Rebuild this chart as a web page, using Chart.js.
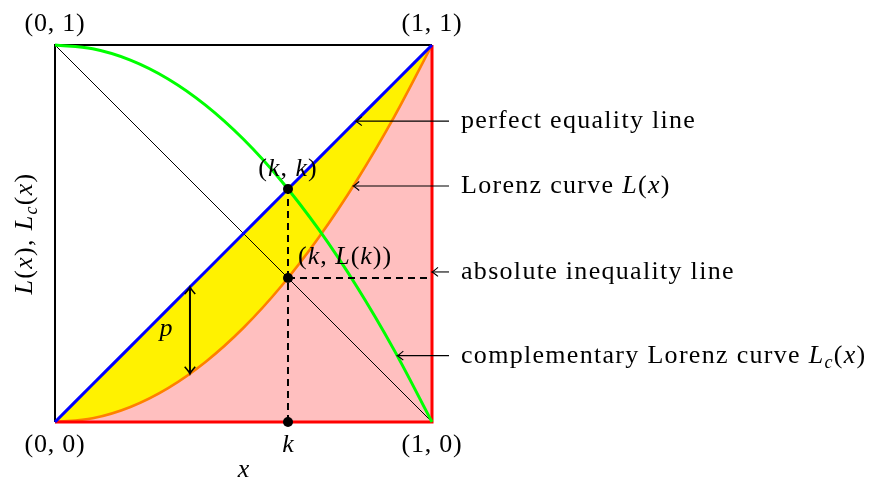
<!DOCTYPE html>
<html>
<head>
    <title>Lorenz curve</title>
    <style>
        html, body { margin: 0; padding: 0; background: #fff; }
        #chart { display: block; }
    </style>
</head>
<body>
    <canvas id="chart" width="871" height="479"></canvas>

    <script src="https://cdn.jsdelivr.net/npm/chart.js"></script>
    <script>
        // values
        const xs       = [0, 0.1, 0.2, 0.3, 0.4, 0.5, 0.6, 0.7, 0.8, 0.9, 1];
        const equality = [0, 0.1, 0.2, 0.3, 0.4, 0.5, 0.6, 0.7, 0.8, 0.9, 1];
        const lorenz   = [0, 0.01, 0.04, 0.09, 0.16, 0.25, 0.36, 0.49, 0.64, 0.81, 1];
        const lorenzC  = [1, 0.99, 0.96, 0.91, 0.84, 0.75, 0.64, 0.51, 0.36, 0.19, 0];
        const kX = 0.618, kY = 0.618, kL = 0.382;
        const pX = 0.358, pTop = 0.358, pBottom = 0.128;

        const pts = (a, b) => a.map((v, i) => ({x: v, y: b[i]}));

        const FONT = '"Liberation Serif", "DejaVu Serif", serif';
        const SIZE = 26;

        function drawRuns(ctx, parts, x, y, align, spacing) {
            const font = s => s === 'r' ? SIZE + 'px ' + FONT
                : s === 'i' ? 'italic ' + SIZE + 'px ' + FONT
                : 'italic ' + Math.round(SIZE * 0.7) + 'px ' + FONT;
            ctx.letterSpacing = (spacing || 0) + 'px';
            let w = 0;
            parts.forEach(([t, s]) => { ctx.font = font(s); w += ctx.measureText(t).width; });
            let cx = align === 'center' ? x - w / 2 : x;
            ctx.textAlign = 'left';
            ctx.textBaseline = 'alphabetic';
            ctx.fillStyle = '#000';
            parts.forEach(([t, s]) => {
                ctx.font = font(s);
                ctx.fillText(t, cx, s === 'sub' ? y + 5 : y);
                cx += ctx.measureText(t).width;
            });
            ctx.letterSpacing = '0px';
        }

        function arrowHead(ctx, x, y, ang, len) {
            ctx.save();
            ctx.translate(x, y);
            ctx.rotate(ang);
            ctx.beginPath();
            ctx.moveTo(-len, -len * 0.75);
            ctx.quadraticCurveTo(-len * 0.25, -len * 0.1, 0, 0);
            ctx.quadraticCurveTo(-len * 0.25, len * 0.1, -len, len * 0.75);
            ctx.stroke();
            ctx.restore();
        }

        const labels = [
            {parts: [['perfect equality line', 'r']], tip: [0.798, 0.798]},
            {parts: [['Lorenz curve ', 'r'], ['L', 'i'], ['(', 'r'], ['x', 'i'], [')', 'r']], tip: [0.791, 0.626]},
            {parts: [['absolute inequality line', 'r']], tip: [1, 0.398]},
            {parts: [['complementary Lorenz curve ', 'r'], ['L', 'i'], ['c', 'sub'], ['(', 'r'], ['x', 'i'], [')', 'r']], tip: [0.908, 0.176]}
        ];

        const overlay = {
            id: 'overlay',
            afterDatasetsDraw(chart) {
                const {ctx, scales: {x, y}} = chart;
                ctx.save();
                ctx.strokeStyle = '#000';

                // annotation arrows and their texts
                labels.forEach(l => {
                    const tx = x.getPixelForValue(l.tip[0]);
                    const ty = y.getPixelForValue(l.tip[1]);
                    ctx.lineWidth = 1.1;
                    ctx.beginPath();
                    ctx.moveTo(449, ty);
                    ctx.lineTo(tx + 1, ty);
                    ctx.stroke();
                    arrowHead(ctx, tx, ty, Math.PI, 6);
                    drawRuns(ctx, l.parts, 461, ty + 7, 'left', 1.3);
                });

                // double arrow p
                const px = x.getPixelForValue(pX);
                const y1 = y.getPixelForValue(pTop), y2 = y.getPixelForValue(pBottom);
                ctx.lineWidth = 2;
                ctx.beginPath();
                ctx.moveTo(px, y1 + 1);
                ctx.lineTo(px, y2 - 1);
                ctx.stroke();
                ctx.lineWidth = 1.6;
                arrowHead(ctx, px, y1, -Math.PI / 2, 7);
                arrowHead(ctx, px, y2, Math.PI / 2, 7);
                drawRuns(ctx, [['p', 'i']], px - 24, (y1 + y2) / 2 + 6, 'center');

                // corner and point labels
                const x0 = x.getPixelForValue(0), x1 = x.getPixelForValue(1);
                const yb = y.getPixelForValue(0), yt = y.getPixelForValue(1);
                drawRuns(ctx, [['(0,', 'r'], [' 1)', 'r']], x0, yt - 14, 'center', 0.8);
                drawRuns(ctx, [['(1,', 'r'], [' 1)', 'r']], x1, yt - 14, 'center', 0.8);
                drawRuns(ctx, [['(0,', 'r'], [' 0)', 'r']], x0, yb + 30, 'center', 0.8);
                drawRuns(ctx, [['(1,', 'r'], [' 0)', 'r']], x1, yb + 30, 'center', 0.8);
                const kx = x.getPixelForValue(kX);
                drawRuns(ctx, [['k', 'i']], kx, yb + 30, 'center');
                drawRuns(ctx, [['(', 'r'], ['k', 'i'], [', ', 'r'], ['k', 'i'], [')', 'r']], kx, y.getPixelForValue(kY) - 13, 'center', 1);
                drawRuns(ctx, [['(', 'r'], ['k', 'i'], [', ', 'r'], ['L', 'i'], ['(', 'r'], ['k', 'i'], ['))', 'r']], kx + 10, y.getPixelForValue(kL) - 14, 'left', 1);

                // axis titles
                drawRuns(ctx, [['x', 'i']], (x0 + x1) / 2, yb + 55, 'center');
                ctx.translate(32, (yt + yb) / 2);
                ctx.rotate(-Math.PI / 2);
                drawRuns(ctx, [['L', 'i'], ['(', 'r'], ['x', 'i'], ['), ', 'r'], ['L', 'i'], ['c', 'sub'], ['(', 'r'], ['x', 'i'], [')', 'r']], 0, 0, 'center', 1.3);
                ctx.restore();
            }
        };

        const curve = {showLine: true, pointRadius: 0, cubicInterpolationMode: 'monotone'};

        new Chart(document.getElementById('chart'), {
            type: 'scatter',
            data: {
                datasets: [
                    {...curve, data: pts(xs, equality), borderColor: '#0000ff', borderWidth: 3,
                        fill: 1, backgroundColor: '#fff200', order: 2},
                    {...curve, data: pts(xs, lorenz), borderColor: '#ff8000', borderWidth: 2.6,
                        fill: 'origin', backgroundColor: '#ffbfbf', order: 3},
                    {...curve, data: pts(xs, lorenzC), borderColor: '#00ff00', borderWidth: 3, order: 1},
                    {showLine: true, pointRadius: 0, data: pts([0, 1], [1, 0]), borderColor: '#000', borderWidth: 1, order: 4},
                    {showLine: true, pointRadius: 0, data: pts([0, 0, 1], [0, 1, 1]), borderColor: '#000', borderWidth: 2, order: 5},
                    {showLine: true, pointRadius: 0, data: pts([0, 1, 1], [0, 0, 1]), borderColor: '#ff0000', borderWidth: 3, order: 2},
                    {showLine: true, pointRadius: 0, data: pts([kX, kX], [0, kY]), borderColor: '#000', borderWidth: 2, borderDash: [7, 5], order: 0},
                    {showLine: true, pointRadius: 0, data: pts([kX, 1], [kL, kL]), borderColor: '#000', borderWidth: 2, borderDash: [7, 5], order: 0},
                    {showLine: false, pointRadius: 5, data: pts([kX, kX, kX], [kY, kL, 0]),
                        backgroundColor: '#000', borderColor: '#000', borderWidth: 0, order: -1}
                ]
            },
            options: {
                responsive: false,
                animation: false,
                layout: {padding: {left: 55, top: 45, right: 439, bottom: 57}},
                datasets: {scatter: {clip: false}},
                scales: {
                    x: {type: 'linear', min: 0, max: 1, display: false},
                    y: {type: 'linear', min: 0, max: 1, display: false}
                },
                plugins: {
                    legend: {display: false},
                    tooltip: {enabled: false},
                    filler: {drawTime: 'beforeDatasetsDraw'}
                }
            },
            plugins: [overlay]
        });
    </script>
</body>
</html>
